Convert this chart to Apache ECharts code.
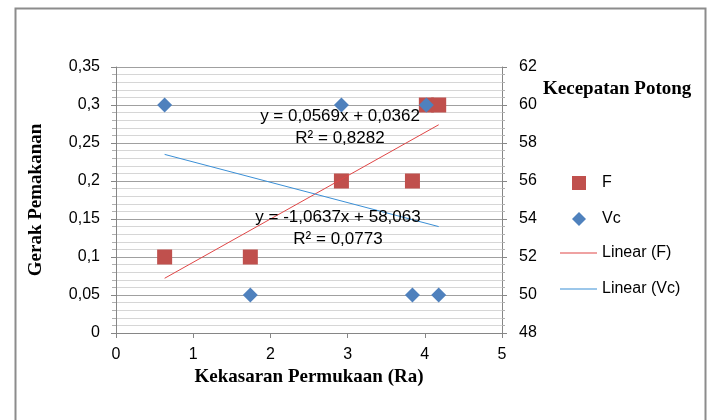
<!DOCTYPE html>
<html>
<head>
<meta charset="utf-8">
<script src="https://cdn.jsdelivr.net/npm/echarts@6/dist/echarts.min.js"></script>
<style>html,body{margin:0;padding:0;background:#fff}#c{width:711px;height:420px}</style>
</head>
<body>
<div id="c"></div>
<script>
// Data
var raValues = [0.63, 1.74, 2.92, 3.84, 4.02, 4.18];
var fValues = [0.1, 0.1, 0.2, 0.2, 0.3, 0.3];
var vcValues = [60, 50, 60, 50, 60, 50];
var trendF = [[0.63, 0.072], [4.18, 0.274]];
var trendVc = [[0.63, 57.4], [4.18, 53.6]];
var leftTicks = ['0', '0,05', '0,1', '0,15', '0,2', '0,25', '0,3', '0,35'];
var eqF = ['y = 0,0569x + 0,0362', 'R² = 0,8282'];
var eqVc = ['y = -1,0637x + 58,063', 'R² = 0,0773'];

var fPts = raValues.map(function (x, i) { return [x, fValues[i]]; });
var vcPts = raValues.map(function (x, i) { return [x, vcValues[i]]; });

var chart = echarts.init(document.getElementById('c'), null, {renderer: 'canvas'});
var sans = 'Liberation Sans, Arial, sans-serif';
var serif = 'Liberation Serif, Times New Roman, serif';
var axisGray = '#868686';

chart.setOption({
  animation: false,
  backgroundColor: '#fff',
  grid: {left: 116, right: 209, top: 67, bottom: 87, containLabel: false},
  xAxis: {
    type: 'value', min: 0, max: 5, interval: 1,
    name: 'Kekasaran Permukaan (Ra)', nameLocation: 'middle', nameGap: 33,
    nameTextStyle: {fontFamily: serif, fontWeight: 'bold', fontSize: 19, color: '#000'},
    axisLine: {show: true, onZero: false, lineStyle: {color: axisGray}},
    axisTick: {show: true, length: 5, lineStyle: {color: axisGray}},
    axisLabel: {fontFamily: sans, fontSize: 16, color: '#000', margin: 14},
    splitLine: {show: false}
  },
  yAxis: [{
    type: 'value', min: 0, max: 0.35, interval: 0.05,
    name: 'Gerak Pemakanan', nameLocation: 'middle', nameGap: 70,
    nameTextStyle: {fontFamily: serif, fontWeight: 'bold', fontSize: 19, color: '#000'},
    axisLine: {show: true, lineStyle: {color: axisGray}},
    axisTick: {show: true, length: 5, lineStyle: {color: axisGray}},
    minorTick: {show: true, splitNumber: 5, length: 4, lineStyle: {color: '#b0b0b0'}},
    axisLabel: {fontFamily: sans, fontSize: 16, color: '#000', margin: 16,
      formatter: function (v) { return leftTicks[Math.round(v / 0.05)]; }},
    splitLine: {show: true, lineStyle: {color: '#a0a0a0', width: 1}},
    minorSplitLine: {show: true, lineStyle: {color: '#d6d6d6', width: 1}}
  }, {
    type: 'value', min: 48, max: 62, interval: 2, position: 'right',
    axisLine: {show: true, lineStyle: {color: axisGray}},
    axisTick: {show: true, length: 5, lineStyle: {color: axisGray}},
    minorTick: {show: true, splitNumber: 5, length: 3, lineStyle: {color: '#b0b0b0'}},
    axisLabel: {fontFamily: sans, fontSize: 16, color: '#000', margin: 17},
    splitLine: {show: false}
  }],
  legend: [{
    orient: 'vertical', left: 567, top: 170, itemWidth: 14, itemHeight: 14, itemGap: 20,
    textStyle: {fontFamily: sans, fontSize: 16, color: '#000', padding: [0, 0, 0, 11]},
    data: [{name: 'F', icon: 'rect'}, {name: 'Vc', icon: 'diamond'}]
  }, {
    orient: 'vertical', left: 555, top: 240, itemWidth: 37, itemHeight: 1, itemGap: 20,
    textStyle: {fontFamily: sans, fontSize: 16, color: '#000', padding: [0, 0, 0, 0]},
    data: [{name: 'Linear (F)', icon: 'rect'}, {name: 'Linear (Vc)', icon: 'rect'}]
  }],
  series: [{
    name: 'F', type: 'scatter', yAxisIndex: 0, data: fPts,
    symbol: 'rect', symbolSize: 15, itemStyle: {color: '#c0504d', opacity: 1}, z: 2
  }, {
    name: 'Vc', type: 'scatter', yAxisIndex: 1, data: vcPts,
    symbol: 'diamond', symbolSize: 15, itemStyle: {color: '#4f81bd', opacity: 1}, z: 3
  }, {
    name: 'Linear (F)', type: 'line', yAxisIndex: 0, data: trendF,
    showSymbol: false, symbol: 'none', lineStyle: {color: '#e04646', width: 1},
    itemStyle: {color: '#e04646'}, z: 4
  }, {
    name: 'Linear (Vc)', type: 'line', yAxisIndex: 1, data: trendVc,
    showSymbol: false, symbol: 'none', lineStyle: {color: '#3a8fd6', width: 1},
    itemStyle: {color: '#3a8fd6'}, z: 4
  }],
  graphic: [
    {type: 'rect', left: 13, top: 6, z: -10, silent: true,
      shape: {width: 690, height: 440}, style: {fill: 'none', stroke: '#8c8c8c', lineWidth: 2}},
    {type: 'text', left: 543, top: 80, z: 10,
      style: {text: 'Kecepatan Potong', font: 'bold 19px ' + serif, fill: '#000'}},
    {type: 'text', x: 340, y: 116, z: 10,
      style: {text: eqF[0], font: '17px ' + sans, fill: '#000', align: 'center', verticalAlign: 'middle'}},
    {type: 'text', x: 340, y: 138, z: 10,
      style: {text: eqF[1], font: '17px ' + sans, fill: '#000', align: 'center', verticalAlign: 'middle'}},
    {type: 'text', x: 338, y: 217, z: 10,
      style: {text: eqVc[0], font: '17px ' + sans, fill: '#000', align: 'center', verticalAlign: 'middle'}},
    {type: 'text', x: 338, y: 239, z: 10,
      style: {text: eqVc[1], font: '17px ' + sans, fill: '#000', align: 'center', verticalAlign: 'middle'}}
  ]
});
</script>
</body>
</html>
